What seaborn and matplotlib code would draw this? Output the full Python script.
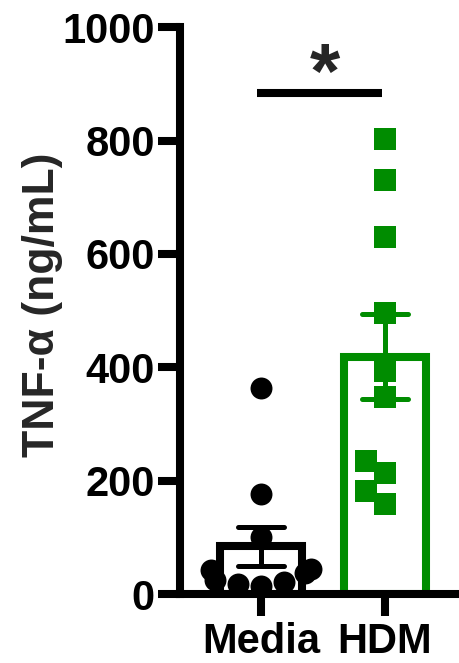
import matplotlib
matplotlib.use("Agg")
import matplotlib.pyplot as plt
import pandas as pd
import seaborn as sns

# values (ng/mL)
groups = ["Media", "HDM"]
media_values = [363, 176, 100, 45, 42, 38, 25, 22, 18, 15]
hdm_values = [803, 731, 630, 495, 394, 347, 234, 213, 181, 158]
y_ticks = [0, 200, 400, 600, 800, 1000]
y_label = "TNF-α (ng/mL)"
sig_pair = ["Media", "HDM"]
sig_height = 884
sig_label = "*"
colors = {"Media": "black", "HDM": "#008C00"}
markers = {"Media": "o", "HDM": "s"}

df = pd.DataFrame({
    "group": ["Media"] * len(media_values) + ["HDM"] * len(hdm_values),
    "value": media_values + hdm_values,
})

sns.set_style("ticks")
plt.rcParams["font.family"] = ["Liberation Sans", "DejaVu Sans"]
plt.rcParams["font.weight"] = "bold"

lw = 5.8
fig = plt.figure(figsize=(4.59, 6.63), dpi=100)
ax = fig.add_axes([0.392, 0.104, 0.608, 0.855])

sns.barplot(data=df, x="group", y="value", hue="group", order=groups,
            hue_order=groups, palette=colors, errorbar="se", fill=False,
            width=0.655, linewidth=lw, capsize=0.37,
            err_kws={"linewidth": 3.6}, legend=False, ax=ax)

for g in groups:
    sns.swarmplot(data=df[df["group"] == g], x="group", y="value", order=groups,
                  marker=markers[g], color=colors[g], size=15.8, linewidth=0,
                  ax=ax)

# significance bar
x0, x1 = groups.index(sig_pair[0]), groups.index(sig_pair[1])
ax.plot([x0 - 0.03, x1 - 0.025], [sig_height, sig_height], color="black",
        linewidth=lw, solid_capstyle="butt")
ax.text((x0 + x1) / 2 + 0.02, sig_height + 28, sig_label, ha="center",
        va="center", fontsize=56, fontweight="bold")

ax.set_xlim(-0.653, 1.597)
ax.set_ylim(0, 1000)
ax.set_yticks(y_ticks)
ax.set_xlabel("")
ax.set_ylabel(y_label, fontsize=32, fontweight="bold")
ax.yaxis.set_label_coords(-0.42, 0.511)
sns.despine(ax=ax)
for side in ["left", "bottom"]:
    ax.spines[side].set_linewidth(lw)
    ax.spines[side].set_color("black")
ax.tick_params(axis="both", length=16, width=lw, color="black",
               labelsize=30, labelcolor="black")
ax.tick_params(axis="y", pad=2)
ax.tick_params(axis="x", pad=4)
for lab in ax.get_xticklabels() + ax.get_yticklabels():
    lab.set_fontweight("bold")

fig.savefig("out.png", dpi=100)
